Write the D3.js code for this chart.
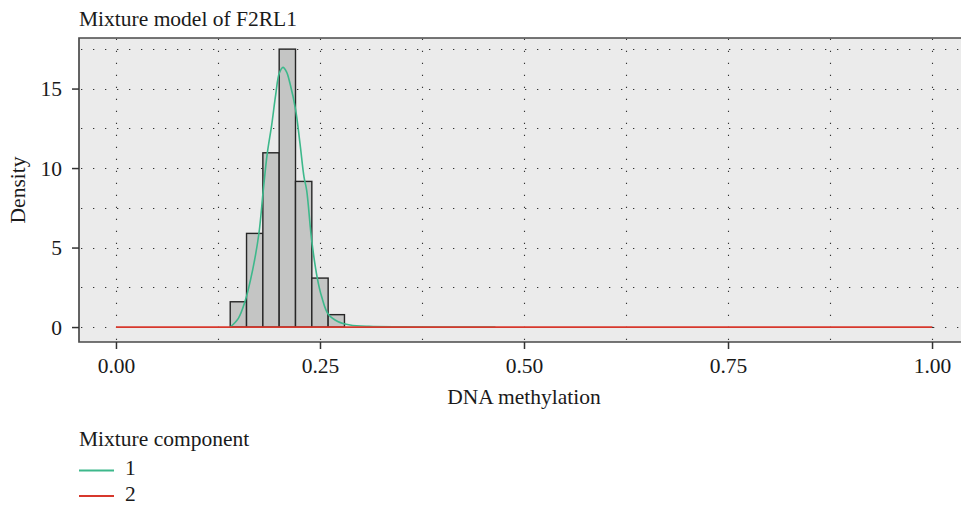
<!DOCTYPE html>
<html>
<head>
<meta charset="utf-8">
<script src="https://cdn.jsdelivr.net/npm/d3@7"></script>
<style>
  html, body { margin: 0; padding: 0; background: #fff; }
  svg { display: block; }
  text { font-family: "Liberation Serif", "Times New Roman", serif; fill: #1a1a1a; }
</style>
</head>
<body>
<svg id="chart" width="961" height="505"></svg>
<script>
// ---- data ----
const binLo = [0.14, 0.16, 0.18, 0.20, 0.22, 0.24, 0.26];
const binHi = [0.16, 0.18, 0.20, 0.22, 0.24, 0.26, 0.28];
const binDensity = [1.59, 5.89, 10.96, 17.48, 9.16, 3.08, 0.78];

// component 1 fitted density
const comp1X = [0.140, 0.150, 0.158, 0.1675, 0.1752, 0.1805, 0.1854, 0.1908, 0.1957, 0.2001, 0.2047, 0.2090, 0.2132, 0.2202, 0.2255, 0.2304, 0.2337, 0.2398, 0.2467, 0.2521, 0.2602, 0.2724, 0.2868, 0.310, 0.350, 0.400, 0.465];
const comp1Y = [0.00, 0.55, 1.59, 3.60, 5.90, 8.60, 10.92, 12.70, 14.60, 15.96, 16.33, 16.05, 15.33, 13.65, 11.55, 9.45, 8.60, 5.47, 3.08, 1.90, 0.80, 0.33, 0.13, 0.04, 0.01, 0.00, 0.00];

// component 2 (flat at zero over [0,1])
const comp2X = [0, 1];
const comp2Y = [0, 0];

const xTicks = [0, 0.25, 0.5, 0.75, 1.0];
const xMinor = [0.125, 0.375, 0.625, 0.875];
const yTicks = [0, 5, 10, 15];
const yMinor = [2.5, 7.5, 12.5, 17.5];

const legendLabels = ["1", "2"];
const titleText = "Mixture model of F2RL1";
const xTitle = "DNA methylation";
const yTitle = "Density";
const legendTitle = "Mixture component";

// ---- layout ----
const colors = ["#3db88b", "#d7382c"];
const FS = "21.5px";
const panel = { left: 79, right: 969, top: 38, bottom: 342 };

const svg = d3.select("#chart");
const x = d3.scaleLinear().domain([-0.0453, 1.0453]).range([panel.left, panel.right]);
const y = d3.scaleLinear().domain([-0.94, 18.18]).range([panel.bottom, panel.top]);

// background
svg.append("rect").attr("x", 0).attr("y", 0).attr("width", 961).attr("height", 505).attr("fill", "#fff");
svg.append("rect")
  .attr("x", panel.left).attr("y", panel.top)
  .attr("width", panel.right - panel.left).attr("height", panel.bottom - panel.top)
  .attr("fill", "#ebebeb");

// grid
const grid = svg.append("g").attr("stroke", "#333").attr("stroke-width", 1.1).attr("stroke-dasharray", "1.3,10.7");
grid.selectAll("line.h").data(yTicks.concat(yMinor)).join("line")
  .attr("x1", panel.left + 2).attr("x2", panel.right)
  .attr("y1", d => Math.round(y(d)) + 0.5).attr("y2", d => Math.round(y(d)) + 0.5);
grid.selectAll("line.v").data(xTicks.concat(xMinor)).join("line")
  .attr("x1", d => Math.round(x(d)) + 0.5).attr("x2", d => Math.round(x(d)) + 0.5)
  .attr("y1", panel.bottom - 2).attr("y2", panel.top);

// histogram bars
svg.append("g").selectAll("rect").data(binDensity).join("rect")
  .attr("x", (d, i) => x(binLo[i]))
  .attr("width", (d, i) => x(binHi[i]) - x(binLo[i]))
  .attr("y", d => y(d))
  .attr("height", d => y(0) - y(d))
  .attr("fill", "#c4c5c4")
  .attr("stroke", "#262626")
  .attr("stroke-width", 1.4);

// curves
const line = d3.line().x(d => x(d[0])).y(d => y(d[1])).curve(d3.curveCatmullRom.alpha(0.5));
svg.append("path")
  .datum(comp1X.map((v, i) => [v, comp1Y[i]]))
  .attr("d", line).attr("fill", "none")
  .attr("stroke", colors[0]).attr("stroke-width", 1.6);
svg.append("path")
  .datum(comp2X.map((v, i) => [v, comp2Y[i]]))
  .attr("d", d3.line().x(d => x(d[0])).y(d => y(d[1])))
  .attr("fill", "none")
  .attr("stroke", colors[1]).attr("stroke-width", 1.8);

// panel border (left, top, bottom)
svg.append("path")
  .attr("d", `M961,${panel.top}H${panel.left}V${panel.bottom}H961`)
  .attr("fill", "none").attr("stroke", "#4a4a4a").attr("stroke-width", 1.7);

// axes
const xAxis = svg.append("g").attr("transform", `translate(0,${panel.bottom})`)
  .call(d3.axisBottom(x).tickValues(xTicks).tickFormat(d3.format(".2f")).tickSize(7).tickSizeOuter(0));
xAxis.select(".domain").remove();
xAxis.selectAll("line").attr("stroke", "#333").attr("stroke-width", 1.5);
xAxis.selectAll("text").attr("dy", null).attr("y", 30.5)
  .style("font-size", FS).style("font-family", "Liberation Serif").attr("fill", "#1a1a1a");

const yAxis = svg.append("g").attr("transform", `translate(${panel.left},0)`)
  .call(d3.axisLeft(y).tickValues(yTicks).tickSize(7).tickSizeOuter(0));
yAxis.select(".domain").remove();
yAxis.selectAll("line").attr("stroke", "#333").attr("stroke-width", 1.5);
yAxis.selectAll("text").attr("x", -17).attr("dy", "0.34em")
  .style("font-size", FS).style("font-family", "Liberation Serif").attr("fill", "#1a1a1a");

// titles
svg.append("text").attr("x", panel.left).attr("y", 26).style("font-size", FS).text(titleText);
svg.append("text").attr("x", x(0.5)).attr("y", 404).attr("text-anchor", "middle").style("font-size", FS).text(xTitle);
svg.append("text").attr("transform", `translate(25,${(panel.top + panel.bottom) / 2}) rotate(-90)`)
  .attr("text-anchor", "middle").style("font-size", FS).text(yTitle);

// legend
svg.append("text").attr("x", 79).attr("y", 446).style("font-size", FS).text(legendTitle);
const leg = svg.append("g").selectAll("g").data(legendLabels).join("g")
  .attr("transform", (d, i) => `translate(79,${470.5 + i * 25.5})`);
leg.append("line").attr("x1", 0).attr("x2", 35).attr("y1", 0).attr("y2", 0)
  .attr("stroke", (d, i) => colors[i]).attr("stroke-width", 1.8);
leg.append("text").attr("x", 46).attr("y", 4.5).style("font-size", FS).text(d => d);
</script>
</body>
</html>
